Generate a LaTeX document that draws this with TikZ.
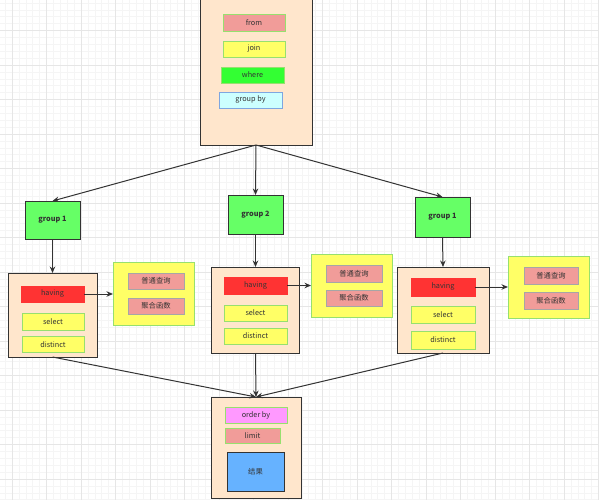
\documentclass[tikz,border=0pt]{standalone}
\usepackage{fontspec}
\setmainfont{Noto Sans CJK SC}
\usetikzlibrary{arrows.meta}
\definecolor{peach}{HTML}{FFE6CC}
\definecolor{dk}{HTML}{333333}
\definecolor{pinkf}{HTML}{F19C99}
\definecolor{yel}{HTML}{FFFF66}
\definecolor{lgreen}{HTML}{97E06E}
\definecolor{brgreen}{HTML}{33FF33}
\definecolor{grpgreen}{HTML}{66FF66}
\definecolor{cyanf}{HTML}{CCFFFF}
\definecolor{blueb}{HTML}{7EA6E0}
\definecolor{redf}{HTML}{FF3333}
\definecolor{magf}{HTML}{FF99FF}
\definecolor{resf}{HTML}{66B2FF}
\definecolor{gridminor}{HTML}{F5F5F5}
\definecolor{gridmajor}{HTML}{E6E6E6}
\tikzset{
  base/.style={inner sep=0pt, outer sep=0pt, font=\fontsize{7.3}{8}\selectfont, text=dk, line width=0.9pt},
  panel/.style={base, draw=dk, fill=peach, line width=1pt},
  grp/.style={base, draw=dk, fill=grpgreen, line width=1pt, font=\fontsize{7.3}{8}\selectfont\bfseries},
  item/.style={base, draw=lgreen, fill=yel},
  pinkitem/.style={base, draw=lgreen, fill=pinkf},
  greyitem/.style={base, draw=black!35, fill=pinkf},
  side/.style={base, draw=lgreen, fill=yel},
  conn/.style={draw=dk, line width=1pt, -{Stealth[length=6.5pt,width=5.5pt]}},
}
\begin{document}
\begin{tikzpicture}[x=1pt,y=-1pt]
\useasboundingbox (0,0) rectangle (599,500);
\fill[white] (0,0) rectangle (599,500);
% grid
\foreach \i in {0,...,87} {
  \draw[gridminor, line width=0.5pt] ({12+6.9*(\i-2)},0) -- ({12+6.9*(\i-2)},500);
}
\foreach \i in {0,...,74} {
  \draw[gridminor, line width=0.5pt] (0,{30.5+6.9*(\i-5)}) -- (599,{30.5+6.9*(\i-5)});
}
\foreach \i in {0,...,17} {
  \draw[gridmajor, line width=0.6pt] ({12+34.5*\i},0) -- ({12+34.5*\i},500);
}
\foreach \i in {-1,...,14} {
  \draw[gridmajor, line width=0.6pt] (0,{30.5+34.5*\i}) -- (599,{30.5+34.5*\i});
}
% top box
\node[panel, minimum width=112pt, minimum height=150pt] (top) at (256,70) {};
\node[pinkitem, minimum width=62pt, minimum height=17pt] (from) at (254,22.5) {from};
\node[item, minimum width=62pt, minimum height=16pt] (join) at (254,49) {join};
\node[base, draw=lgreen, fill=brgreen, minimum width=63pt, minimum height=16pt] (where) at (252.5,75) {where};
\node[base, draw=blueb, fill=cyanf, minimum width=63pt, minimum height=16pt] (groupby) at (250.5,100) {group by};
% groups
\node[grp, minimum width=55pt, minimum height=38pt] (g1l) at (52.5,220) {group 1};
\node[grp, minimum width=55pt, minimum height=39pt] (g2) at (255.5,214.5) {group 2};
\node[grp, minimum width=55pt, minimum height=40pt] (g1r) at (442.5,217) {group 1};
% left panel
\node[panel, minimum width=89pt, minimum height=84pt] (pl) at (52.5,315) {};
\node[base, draw=redf, fill=redf, minimum width=63pt, minimum height=16pt] (hl) at (52.5,294) {having};
\node[item, minimum width=62pt, minimum height=17pt] (sl) at (53,321.5) {select};
\node[item, minimum width=62pt, minimum height=16pt] (dl) at (53,344.5) {distinct};
\node[side, minimum width=81pt, minimum height=63pt] (xl) at (153.5,293.5) {};
\node[greyitem, minimum width=56pt, minimum height=16pt] (ql) at (156,281) {普通查询};
\node[greyitem, minimum width=56pt, minimum height=16pt] (al) at (156,306) {聚合函数};
% middle panel
\node[panel, minimum width=88pt, minimum height=86pt] (pm) at (255.5,310) {};
\node[base, draw=redf, fill=redf, minimum width=63pt, minimum height=17pt] (hm) at (255.5,285.5) {having};
\node[item, minimum width=63pt, minimum height=16pt] (sm) at (255.5,313) {select};
\node[item, minimum width=63pt, minimum height=16pt] (dm) at (255.5,336) {distinct};
\node[side, minimum width=81pt, minimum height=63pt] (xm) at (351.5,285.5) {};
\node[greyitem, minimum width=56pt, minimum height=17pt] (qm) at (354,273.5) {普通查询};
\node[greyitem, minimum width=56pt, minimum height=16pt] (am) at (354,298) {聚合函数};
% right panel
\node[panel, minimum width=92pt, minimum height=86pt] (pr) at (443,310) {};
\node[base, draw=redf, fill=redf, minimum width=64pt, minimum height=18pt] (hr) at (443,287) {having};
\node[item, minimum width=64pt, minimum height=17pt] (sr) at (443,314.5) {select};
\node[item, minimum width=64pt, minimum height=18pt] (dr) at (443,340) {distinct};
\node[side, minimum width=81pt, minimum height=62pt] (xr) at (548.5,287) {};
\node[greyitem, minimum width=54pt, minimum height=17pt] (qr) at (551,275.5) {普通查询};
\node[greyitem, minimum width=54pt, minimum height=17pt] (ar) at (551,300.5) {聚合函数};
% bottom box
\node[panel, minimum width=90pt, minimum height=101pt] (bot) at (256,447.5) {};
\node[base, draw=lgreen, fill=magf, minimum width=62pt, minimum height=16pt] (ob) at (256,415) {order by};
\node[pinkitem, minimum width=55pt, minimum height=15pt] (lim) at (252.5,435.5) {limit};
\node[base, draw=dk, fill=resf, line width=1pt, minimum width=57pt, minimum height=39pt] (res) at (255.5,471.5) {结果};
% connectors
\draw[conn] (top.south) -- (g1l.north);
\draw[conn] (top.south) -- (g2.north);
\draw[conn] (top.south) -- (g1r.north);
\draw[conn] (g1l.south) -- (pl.north);
\draw[conn] (g2.south) -- (pm.north);
\draw[conn] (g1r.south) -- (pr.north);
\draw[conn] (hl.east) -- (xl.west |- hl.east);
\draw[conn] (hm.east) -- (xm.west |- hm.east);
\draw[conn] (hr.east) -- (xr.west |- hr.east);
\draw[conn] (pl.south) -- (bot.north);
\draw[conn] (pm.south) -- (bot.north);
\draw[conn] (pr.south) -- (bot.north);
\end{tikzpicture}
\end{document}
